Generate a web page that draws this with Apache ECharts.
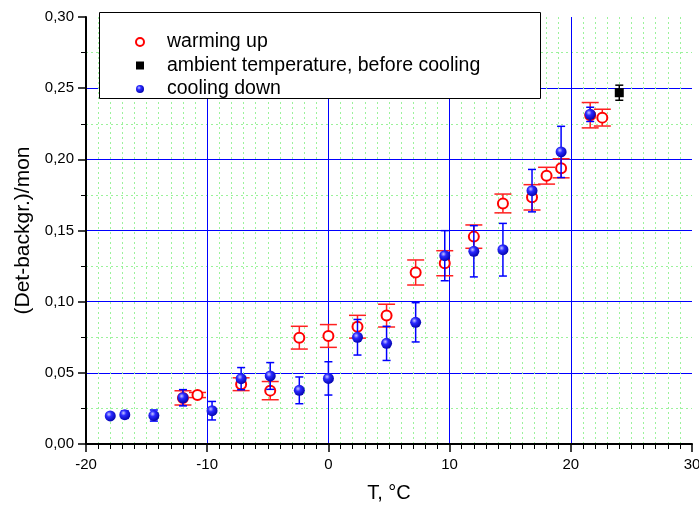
<!DOCTYPE html>
<html>
<head>
<meta charset="utf-8">
<script src="https://cdn.jsdelivr.net/npm/echarts@6/dist/echarts.min.js"></script>
<style>
  html, body { margin: 0; padding: 0; background: #fff; }
  #chart { width: 699px; height: 505px; }
</style>
</head>
<body>
<div id="chart"></div>
<script>
// Warming up (open red circles)
const warmT   = [-12.0, -10.8, -7.2, -4.8, -2.4, 0.0, 2.4, 4.8, 7.2, 9.6, 12.0, 14.4, 16.8, 18.0, 19.2, 21.6, 22.6];
const warmV   = [0.0324, 0.0344, 0.0420, 0.0375, 0.0747, 0.0759, 0.0824, 0.0902, 0.1205, 0.1270, 0.1457, 0.1690, 0.1733, 0.1885, 0.1937, 0.2310, 0.2293];
const warmErr = [0.0050, 0.0018, 0.0045, 0.0064, 0.0080, 0.0080, 0.0080, 0.0080, 0.0088, 0.0088, 0.0082, 0.0066, 0.0089, 0.0059, 0.0067, 0.0089, 0.0059];

// Ambient temperature before cooling (black square)
const ambT   = [24.0];
const ambV   = [0.2468];
const ambErr = [0.0053];

// Cooling down (blue spheres)
const coolT   = [-18.0, -16.8, -14.4, -12.0, -9.6, -7.2, -4.8, -2.4, 0.0, 2.4, 4.8, 7.2, 9.6, 12.0, 14.4, 16.8, 19.2, 21.6];
const coolV   = [0.0197, 0.0206, 0.0200, 0.0325, 0.0234, 0.0459, 0.0478, 0.0377, 0.0461, 0.0750, 0.0707, 0.0855, 0.1323, 0.1354, 0.1365, 0.1780, 0.2052, 0.2316];
const coolErr = [0.0010, 0.0026, 0.0039, 0.0057, 0.0065, 0.0078, 0.0094, 0.0094, 0.0117, 0.0125, 0.0120, 0.0138, 0.0176, 0.0180, 0.0185, 0.0149, 0.0180, 0.0050];

const xTicks = { min: -20, max: 30, step: 10 };
const yTicks = { min: 0, max: 0.30, step: 0.05 };

const FONT = 'Liberation Sans, Arial, sans-serif';

function points(xs, ys) { return xs.map((x, i) => [x, ys[i]]); }
function bars(xs, ys, es) { return xs.map((x, i) => [x, ys[i], es[i]]); }

// Vertical error bar with horizontal caps, positioned through the axes
function errorBar(color, capHalf) {
  return function (params, api) {
    const x = api.value(0), y = api.value(1), e = api.value(2);
    const hi = api.coord([x, y + e]);
    const lo = api.coord([x, y - e]);
    const style = { stroke: color, lineWidth: 1.5 };
    return {
      type: 'group',
      children: [
        { type: 'line', shape: { x1: hi[0], y1: hi[1], x2: lo[0], y2: lo[1] }, style },
        { type: 'line', shape: { x1: hi[0] - capHalf, y1: hi[1], x2: hi[0] + capHalf, y2: hi[1] }, style },
        { type: 'line', shape: { x1: lo[0] - capHalf, y1: lo[1], x2: lo[0] + capHalf, y2: lo[1] }, style }
      ]
    };
  };
}

// Shaded blue ball
const sphere = {
  type: 'radial', x: 0.38, y: 0.35, r: 0.7,
  colorStops: [
    { offset: 0, color: '#c8c8ff' },
    { offset: 0.35, color: '#2a2aff' },
    { offset: 1, color: '#0000a8' }
  ]
};

const chart = echarts.init(document.getElementById('chart'), null, { renderer: 'canvas' });

chart.setOption({
  animation: false,
  backgroundColor: '#ffffff',
  grid: { left: 86, right: 7, top: 17, bottom: 61, containLabel: false, outerBoundsMode: 'none' },
  graphic: [
    {
      type: 'rect', z: 90, left: 99, top: 12,
      shape: { width: 441, height: 86 },
      style: { fill: '#ffffff', stroke: '#000000', lineWidth: 1 }
    }
  ],
  legend: {
    z: 100,
    orient: 'vertical',
    left: 130, top: 27,
    itemWidth: 8, itemHeight: 8, itemGap: 3.5,
    textStyle: { fontFamily: FONT, fontSize: 19.5, color: '#000', padding: [0, 0, 0, 18], lineHeight: 20 },
    data: [
      { name: 'warming up', icon: 'circle', itemStyle: { color: '#ffffff', borderColor: '#ff0000', borderWidth: 2 } },
      { name: 'ambient temperature, before cooling', icon: 'rect', itemStyle: { color: '#000000', borderWidth: 0 } },
      { name: 'cooling down', icon: 'circle', itemStyle: { color: sphere, borderWidth: 0 } }
    ]
  },
  xAxis: {
    type: 'value',
    min: xTicks.min, max: xTicks.max, interval: xTicks.step,
    name: 'T, °C', nameLocation: 'middle', nameGap: 39,
    nameTextStyle: { fontFamily: FONT, fontSize: 20, color: '#000' },
    axisLine: { show: true, onZero: false, lineStyle: { color: '#000', width: 2 } },
    axisTick: { show: true, inside: false, length: 8, lineStyle: { color: '#000', width: 1.5 } },
    minorTick: { show: true, splitNumber: 10, length: 5, lineStyle: { color: '#000', width: 1 } },
    axisLabel: { fontFamily: FONT, fontSize: 15, color: '#000', margin: 13 },
    splitLine: { show: true, showMinLine: false, showMaxLine: false, lineStyle: { color: '#0000ff', width: 1 } },
    minorSplitLine: { show: true, lineStyle: { color: '#9cf29c', width: 1, type: [2, 3] } }
  },
  yAxis: {
    type: 'value',
    min: yTicks.min, max: yTicks.max, interval: yTicks.step,
    name: '(Det-backgr.)/mon', nameLocation: 'middle', nameGap: 47,
    nameTextStyle: { fontFamily: FONT, fontSize: 21, color: '#000' },
    axisLine: { show: true, onZero: false, lineStyle: { color: '#000', width: 2 } },
    axisTick: { show: true, inside: false, length: 8, lineStyle: { color: '#000', width: 1.5 } },
    minorTick: { show: true, splitNumber: 2, length: 5, lineStyle: { color: '#000', width: 1 } },
    axisLabel: {
      fontFamily: FONT, fontSize: 15, color: '#000', margin: 12,
      formatter: v => v.toFixed(2).replace('.', ',')
    },
    splitLine: { show: true, showMinLine: false, showMaxLine: false, lineStyle: { color: '#0000ff', width: 1 } },
    minorSplitLine: { show: true, lineStyle: { color: '#9cf29c', width: 1, type: [2, 3] } }
  },
  series: [
    {
      type: 'custom', name: 'warming up', z: 3, silent: true,
      renderItem: errorBar('#ff2020', 8.5),
      data: bars(warmT, warmV, warmErr),
      encode: { x: 0, y: 1 }
    },
    {
      type: 'scatter', name: 'warming up', z: 4,
      symbol: 'circle', symbolSize: 10,
      itemStyle: { color: '#ffffff', borderColor: '#ff0000', borderWidth: 2, opacity: 1 },
      data: points(warmT, warmV)
    },
    {
      type: 'custom', name: 'ambient temperature, before cooling', z: 5, silent: true,
      renderItem: errorBar('#000000', 4),
      data: bars(ambT, ambV, ambErr),
      encode: { x: 0, y: 1 }
    },
    {
      type: 'scatter', name: 'ambient temperature, before cooling', z: 6,
      symbol: 'rect', symbolSize: 9,
      itemStyle: { color: '#000000', opacity: 1 },
      data: points(ambT, ambV)
    },
    {
      type: 'custom', name: 'cooling down', z: 7, silent: true,
      renderItem: errorBar('#0000ff', 4),
      data: bars(coolT, coolV, coolErr),
      encode: { x: 0, y: 1 }
    },
    {
      type: 'scatter', name: 'cooling down', z: 8,
      symbol: 'circle', symbolSize: 11,
      itemStyle: { color: sphere, opacity: 1 },
      data: points(coolT, coolV)
    }
  ]
});
</script>
</body>
</html>
